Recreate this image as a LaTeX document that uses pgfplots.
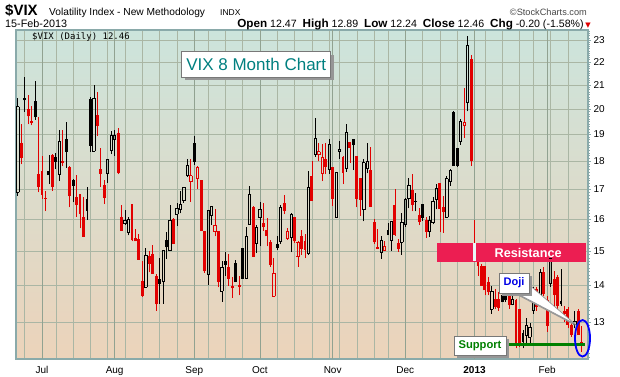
\documentclass[border=0pt]{standalone}
\usepackage{fontspec}
\setmainfont{Liberation Sans}
\newfontfamily\dvs{DejaVu Sans}
\newfontfamily\mono{DejaVu Sans Mono}
\usepackage{pgfplots}
\usepackage{pgfplotstable}
\pgfplotsset{compat=1.18}
\definecolor{framec}{RGB}{138,170,170}
\definecolor{topc}{RGB}{204,228,220}
\definecolor{midc}{RGB}{241,231,172}
\definecolor{botc}{RGB}{236,211,186}
\definecolor{gridl}{RGB}{170,182,164}
\definecolor{gridd}{RGB}{145,162,145}
\definecolor{cred}{RGB}{225,0,0}
\definecolor{resc}{RGB}{236,30,82}
\definecolor{supg}{RGB}{0,128,0}
\definecolor{teal2}{RGB}{0,128,128}
\definecolor{shad}{RGB}{150,150,150}
\definecolor{boxb}{RGB}{120,120,120}
\definecolor{dojib}{RGB}{0,0,230}
\definecolor{ellb}{RGB}{0,0,255}
\definecolor{copyc}{RGB}{70,70,70}
\definecolor{wbody}{RGB}{232,248,248}

% i open high low close
\pgfplotstableread{
i o h l c
-7 16.90 20.45 16.79 20.09
5 17.51 19.19 17.29 18.74
15 18.37 21.01 18.37 20.45
19 17.55 18.09 17.23 18.06
20 18.40 19.13 18.26 18.95
21 18.80 19.16 18.19 18.96
24 15.88 16.30 15.83 15.98
25 15.58 16.06 15.49 16.00
30 13.94 15.10 13.94 14.88
35 14.12 15.02 13.49 15.02
37 15.04 16.46 15.04 15.97
39 16.16 16.54 15.78 16.37
40 16.31 16.94 16.19 16.49
41 16.61 17.08 16.54 17.07
42 17.49 18.06 17.44 17.84
48 14.30 16.30 14.00 16.29
49 16.14 16.44 15.83 16.41
52 13.84 14.71 13.54 14.53
59 14.21 15.76 14.17 15.47
60 15.83 17.12 15.83 16.84
62 15.25 15.81 14.95 15.75
63 16.05 16.58 15.15 16.32
69 15.31 16.46 15.22 16.39
72 15.43 16.20 14.97 16.17
77 14.94 17.63 14.89 17.07
79 18.23 19.66 18.16 18.84
83 17.69 18.84 17.55 18.61
85 16.05 17.61 16.05 17.58
86 18.34 18.73 18.09 18.43
88 17.72 19.42 17.61 19.07
93 16.31 18.06 15.93 17.94
94 17.75 18.66 17.56 17.98
98 14.96 15.47 14.78 15.34
101 15.33 15.94 15.02 15.94
104 15.27 16.20 14.90 15.90
105 15.83 16.70 15.76 16.67
106 16.68 17.38 16.36 17.15
108 16.58 16.87 16.26 16.59
112 15.62 16.10 15.43 15.97
113 15.89 16.73 15.84 16.60
114 16.67 17.17 16.33 17.03
117 16.06 17.46 16.06 17.37
118 17.27 17.70 17.12 17.68
121 18.73 19.61 18.60 19.49
123 20.29 23.19 19.91 22.74
130 13.34 13.98 13.22 13.84
136 13.47 13.72 13.44 13.61
140 12.66 13.09 12.45 12.90
141 12.60 12.98 12.44 12.86
142 13.30 13.95 13.22 13.76
144 13.58 14.48 13.49 14.38
147 14.04 14.89 13.96 14.77
154 12.93 13.30 12.83 13.02
}\tBH

\pgfplotstableread{
i o h l c
-5 20.46 21.34 19.89 20.35
-2 20.33 21.18 19.58 19.67
2 17.63 18.24 17.18 17.50
4 18.16 18.31 17.70 17.96
7 18.84 19.50 17.76 18.33
9 17.32 17.35 16.56 17.12
13 16.67 17.07 15.99 16.28
14 20.42 20.49 18.33 18.58
34 14.17 14.79 13.49 14.03
36 15.35 15.59 14.77 15.12
44 18.66 18.96 17.87 17.98
53 14.71 14.97 14.28 14.60
56 14.65 14.73 14.09 14.09
58 15.10 15.11 14.19 14.19
68 15.22 15.48 15.05 15.11
90 18.81 18.81 17.68 18.59
100 15.65 15.88 15.50 15.50
110 16.50 16.50 15.96 16.04
119 19.87 19.94 17.82 17.82
120 18.47 18.49 17.80 17.84
133 13.74 13.81 13.53 13.53
134 13.78 13.90 13.53 13.58
139 12.72 12.79 12.32 12.49
150 13.56 14.48 13.42 13.47
}\tBF

\pgfplotstableread{
i o h l c
43 17.27 18.06 16.58 17.48
45 17.37 17.82 17.01 17.77
50 15.61 16.33 15.46 15.81
67 13.69 14.80 13.69 14.35
71 15.38 15.71 15.35 15.61
74 14.85 15.30 14.53 15.26
80 18.23 18.69 17.99 18.35
81 17.55 18.64 17.29 18.12
99 15.01 15.30 15.01 15.16
122 19.36 20.87 18.87 19.46
}\tRH

\pgfplotstableread{
i o h l c
-6 18.66 19.39 17.88 18.11
-4 20.02 20.59 19.39 19.71
-3 19.54 20.14 19.35 19.43
-1 17.52 19.69 16.90 17.08
0 17.63 18.20 16.67 16.82
1 16.70 16.94 16.27 16.68
3 18.21 18.28 16.95 17.09
6 17.99 19.19 17.82 17.93
8 17.80 17.84 16.39 16.76
10 16.73 17.49 16.09 16.47
11 16.83 16.84 15.71 16.18
12 16.07 16.73 15.45 15.45
16 19.78 20.69 18.96 19.32
17 17.70 18.47 17.09 17.54
18 17.15 17.32 16.50 16.71
22 19.07 19.25 17.52 17.57
23 16.07 16.46 15.63 15.63
26 16.50 16.50 15.30 15.33
27 15.41 15.68 15.30 15.30
28 15.37 15.52 14.75 14.75
29 14.13 14.71 13.68 13.71
31 14.86 15.02 14.37 14.63
32 14.92 15.19 14.33 14.33
33 14.28 14.33 13.30 13.47
38 16.00 16.03 15.22 15.22
46 17.31 17.31 15.62 15.62
47 15.62 15.62 14.36 14.40
51 15.63 15.63 13.94 14.09
54 14.53 14.91 13.99 14.19
55 13.99 14.24 13.65 13.91
57 14.02 14.28 13.72 13.96
61 16.40 16.43 14.84 14.84
64 15.88 16.55 15.64 15.75
65 15.65 16.04 15.15 15.46
66 15.27 15.33 14.54 14.58
70 16.53 16.80 16.17 16.28
73 16.06 16.08 15.26 15.30
75 15.46 15.66 14.89 15.07
76 15.30 15.52 14.79 15.05
78 17.46 17.99 16.61 16.61
82 18.06 18.67 17.52 17.80
84 17.78 17.78 16.44 16.68
87 18.16 18.18 17.18 17.57
89 18.70 18.70 17.95 18.48
91 18.17 18.17 16.39 16.68
92 17.38 17.41 16.11 16.64
95 17.67 18.51 16.41 16.41
96 15.91 16.01 15.22 15.27
97 15.12 15.69 15.06 15.08
102 16.46 17.01 15.48 15.51
103 15.26 15.39 14.99 15.07
107 16.97 17.55 16.26 16.47
109 16.13 16.36 15.81 15.91
111 15.98 16.07 15.42 15.59
115 17.22 17.22 15.58 16.35
116 16.39 16.79 15.57 16.24
124 22.14 22.29 17.84 18.00
126 14.79 14.79 14.28 14.55
127 14.55 14.61 13.99 13.99
128 14.55 14.55 13.72 13.86
129 14.09 14.24 13.72 13.81
131 13.61 13.90 13.35 13.40
132 13.61 13.81 13.30 13.37
135 13.72 14.00 13.35 13.44
137 13.60 13.62 12.32 12.44
138 13.35 13.35 12.36 12.44
143 13.90 13.95 13.30 13.40
145 14.38 14.54 13.70 13.76
146 13.58 13.70 12.75 12.90
148 14.19 14.40 13.30 13.73
149 14.24 14.30 13.35 13.42
151 13.30 13.43 13.01 13.22
152 13.35 13.40 12.83 12.93
153 12.93 13.01 12.62 12.67
155 13.30 13.35 12.78 12.67
156 12.47 12.89 12.24 12.46
}\tRF

\pgfplotstableread{
i o h l c
125 15.24 15.98 14.67 14.72
}\tW

\newcommand{\wickfull}[2]{%
\addplot[draw=none, mark=none, forget plot, error bars/.cd, y dir=plus, y explicit, error mark=none, error bar style={draw=#2, line width=0.75pt}] table[x=i, y=l, y error expr=\thisrow{h}-\thisrow{l}] {#1};}
\newcommand{\bodyfill}[3]{%
\addplot[draw=none, mark=none, forget plot, error bars/.cd, y dir=plus, y explicit, error mark=none, error bar style={draw=#2, line width=#3}] table[x=i, y expr={min(\thisrow{o},\thisrow{c})}, y error expr={abs(\thisrow{c}-\thisrow{o})}] {#1};}
\newcommand{\hollow}[2]{%
\addplot[draw=none, mark=none, forget plot, error bars/.cd, y dir=plus, y explicit, error mark=none, error bar style={draw=#2, line width=0.75pt}] table[x=i, y expr={max(\thisrow{o},\thisrow{c})}, y error expr={\thisrow{h}-max(\thisrow{o},\thisrow{c})}] {#1};
\addplot[draw=none, mark=none, forget plot, error bars/.cd, y dir=plus, y explicit, error mark=none, error bar style={draw=#2, line width=0.75pt}] table[x=i, y=l, y error expr={min(\thisrow{o},\thisrow{c})-\thisrow{l}}] {#1};
\addplot[draw=none, mark=none, forget plot, error bars/.cd, y dir=plus, y explicit, error mark=none, error bar style={draw=#2, line width=0.8pt}] table[x expr=\thisrow{i}-0.33, y expr={min(\thisrow{o},\thisrow{c})}, y error expr={abs(\thisrow{c}-\thisrow{o})}] {#1};
\addplot[draw=none, mark=none, forget plot, error bars/.cd, y dir=plus, y explicit, error mark=none, error bar style={draw=#2, line width=0.8pt}] table[x expr=\thisrow{i}+0.33, y expr={min(\thisrow{o},\thisrow{c})}, y error expr={abs(\thisrow{c}-\thisrow{o})}] {#1};
\addplot[only marks, mark=-, mark size=1.55pt, forget plot, mark options={draw=#2, line width=0.8pt}] table[x=i, y=o] {#1};
\addplot[only marks, mark=-, mark size=1.55pt, forget plot, mark options={draw=#2, line width=0.8pt}] table[x=i, y=c] {#1};}

\begin{document}
\begin{tikzpicture}[x=1pt,y=1pt]
\useasboundingbox (0,0) rectangle (620,376);
\begin{axis}[
  at={(16pt,17pt)}, anchor=south west,
  scale only axis, width=572pt, height=329pt,
  xmin=-7.51, xmax=157.8,
  ymode=log, ymin=12.06, ymax=23.47,
  clip=false,
  axis background/.style={shade, top color=topc, middle color=midc, bottom color=botc},
  axis line style={draw=framec, line width=1.1pt},
  xtick={0,21,44,63,84,105,125,146},
  xticklabels={Jul,Aug,Sep,Oct,Nov,Dec,\textbf{2013},Feb},
  minor xtick={-5,4,9,14,19,24,29,34,39,48,53,58,68,73,78,83,86,91,96,100,110,115,120,128,133,138,142,147,152},
  xtick style={draw=none},
  xticklabel style={font=\fontsize{10}{10}\selectfont, yshift=-1pt},
  ytick={13,14,15,16,17,18,19,20,21,22,23},
  yticklabels={13,14,15,16,17,18,19,20,21,22,23},
  minor ytick={12.1,12.2,...,23.41},
  ytick pos=right, yticklabel pos=right,
  tick align=outside,
  major tick length=3pt, minor tick length=1.5pt,
  ytick style={draw=framec, line width=0.6pt},
  yticklabel style={font=\fontsize{10}{10}\selectfont, xshift=-1pt},
  xmajorgrids, xminorgrids, ymajorgrids,
  major grid style={draw=gridl, line width=0.55pt},
  minor grid style={draw=gridl, line width=0.55pt},
  extra x ticks={0,21,44,63,84,105,125,146},
  extra x tick labels={},
  extra x tick style={major grid style={draw=gridd, line width=0.9pt}, xtick style={draw=none}},
]
% filled candles
\wickfull{\tBF}{black}
\bodyfill{\tBF}{black}{2.9pt}
\wickfull{\tRF}{cred}
\bodyfill{\tRF}{cred}{2.9pt}
% hollow candles
\hollow{\tBH}{black}
\hollow{\tRH}{cred}
% resistance band
\fill[resc] (axis cs:114.2,14.68) rectangle (axis cs:157.3,15.24);
\node[text=white, font=\fontsize{12.7}{12.7}\selectfont\bfseries] at (axis cs:140.5,14.95) {Resistance};
% candle of 2 Jan over the band
\addplot[draw=none, mark=none, forget plot, error bars/.cd, y dir=plus, y explicit, error mark=none, error bar style={draw=cred, line width=0.75pt}] table[x=i, y=o, y error expr=\thisrow{h}-\thisrow{o}] {\tW};
\bodyfill{\tW}{wbody}{3.6pt}
% support line
\draw[supg, line width=2.2pt] (axis cs:134.4,12.42) -- (axis cs:157,12.42);
\end{axis}

% header
\node[anchor=base west, inner sep=0, font=\fontsize{15}{15}\selectfont\bfseries] at (5,361) {\$VIX};
\node[anchor=base west, inner sep=0, font=\fontsize{10.2}{10}\selectfont] at (49,361) {Volatility Index - New Methodology};
\node[anchor=base west, inner sep=0, font=\fontsize{8.5}{9}\selectfont] at (220,361) {INDX};
\node[anchor=base east, inner sep=0, font=\fontsize{9.2}{9}\selectfont, text=copyc] at (587,361) {©StockCharts.com};
\node[anchor=base west, inner sep=0, font=\fontsize{10.8}{10}\selectfont] at (5,349) {15-Feb-2013};
\node[anchor=base east, inner sep=0, font=\fontsize{10.6}{10}\selectfont] at (591,349) {\textbf{\fontsize{11.7}{11}\selectfont Open} 12.47\hspace{3pt} \textbf{\fontsize{11.7}{11}\selectfont High} 12.89\hspace{3pt} \textbf{\fontsize{11.7}{11}\selectfont Low} 12.24\hspace{3pt} \textbf{\fontsize{11.7}{11}\selectfont Close} 12.46\hspace{3pt} \textbf{\fontsize{11.7}{11}\selectfont Chg} -0.20 (-1.58\%)\,{\dvs\color{cred}\fontsize{7}{7}\selectfont ▼}};
% legend line inside the plot
\node[anchor=base west, inner sep=0, font=\mono\fontsize{9}{9}\selectfont] at (32,336.7) {\$VIX (Daily) 12.46};

% title box
\fill[shad] (184.7,296) rectangle (333.7,321.3);
\draw[draw=boxb, fill=white, line width=0.8pt] (181.7,299) rectangle (330.7,324.3);
\node[text=teal2, font=\fontsize{17}{17}\selectfont] at (256.2,311.3) {VIX 8 Month Chart};

% doji callout
\fill[shad] (530,90) -- (519,80) -- (576,50) -- cycle;
\filldraw[fill=white, draw=shad, line width=0.7pt] (527,93) -- (516,83) -- (575,52) -- cycle;
\fill[shad] (502,80) rectangle (532,100);
\draw[fill=white, draw=boxb, line width=0.8pt] (499,83) rectangle (529,103);
\node[text=dojib, font=\fontsize{11}{11}\selectfont\bfseries] at (514,93) {Doji};

% support box
\fill[shad] (457,18) rectangle (509,37);
\draw[fill=white, draw=boxb, line width=0.8pt] (454,21) rectangle (506,40);
\node[text=supg, font=\fontsize{11.2}{11}\selectfont\bfseries] at (480,30.5) {Support};

% ellipse round the last candle
\draw[ellb, line width=1.8pt] (582.5,37.7) ellipse (7.5 and 18.3);
\end{tikzpicture}
\end{document}
